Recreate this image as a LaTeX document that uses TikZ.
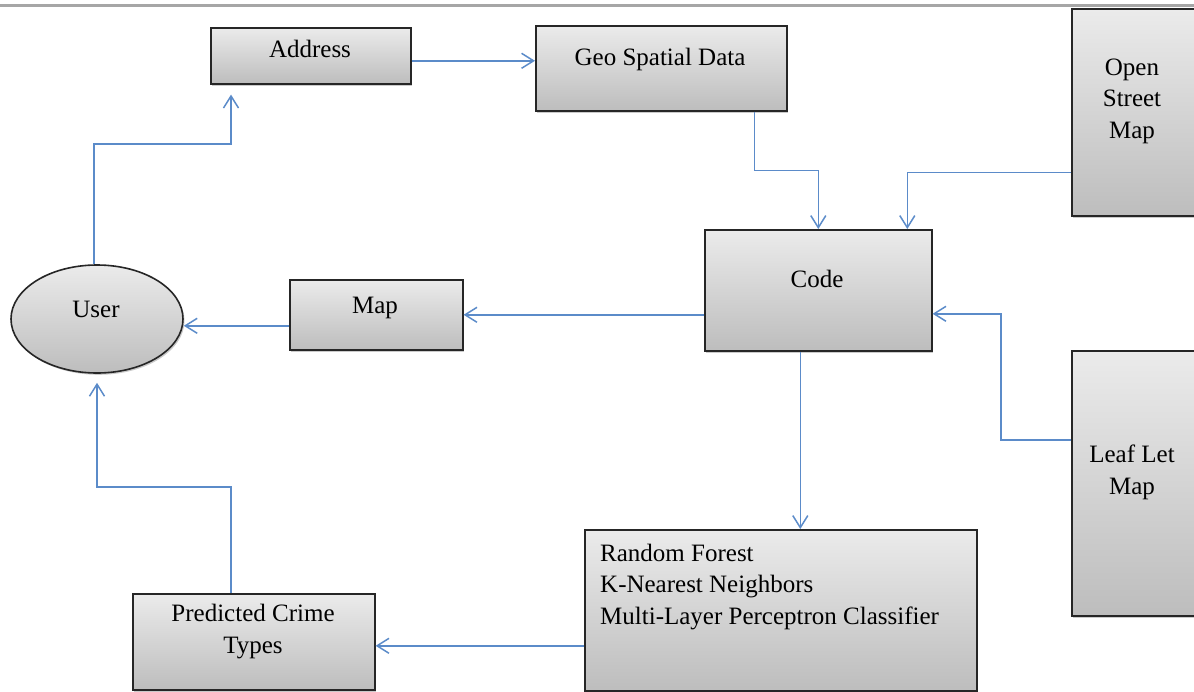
\documentclass[tikz,border=0pt]{standalone}
\usepackage{fontspec}
\setmainfont{Liberation Serif}
\usetikzlibrary{arrows.meta,shadows,calc,shapes.geometric}
\definecolor{linkblue}{HTML}{5B8BC9}
\definecolor{boxedge}{HTML}{262626}
\definecolor{shadetop}{HTML}{EBEBEB}
\definecolor{shadebot}{HTML}{BDBDBD}
\begin{document}
\begin{tikzpicture}[x=1pt,y=-1pt,
  box/.style={draw=boxedge, line width=1.6pt, top color=shadetop, bottom color=shadebot,
    rectangle, inner sep=0pt, anchor=north west,
    drop shadow={shadow xshift=1.5pt, shadow yshift=-1.8pt, opacity=0.35, fill=black!60}},
  oval/.style={draw=boxedge, line width=1.6pt, top color=shadetop, bottom color=shadebot,
    ellipse, inner sep=0pt,
    drop shadow={shadow xshift=1.5pt, shadow yshift=-1.8pt, opacity=0.35, fill=black!60}},
  lbl/.style={font=\fontsize{25}{31.5}\selectfont, inner sep=0pt, text=black, align=center},
  conn/.style={draw=linkblue, line width=1.5pt, -{Straight Barb[length=12pt,width=15pt]}},
]
\useasboundingbox (0,0) rectangle (1194,691);
% rule along the top
\draw[line width=3pt, draw=black!35] (0,5) -- (1194,5);

% boxes
\node[box, minimum width=200pt, minimum height=56pt]  (addr) at (210,27)  {};
\node[box, minimum width=251pt, minimum height=85pt]  (geo)  at (535,25)  {};
\node[box, minimum width=124pt, minimum height=207pt] (osm)  at (1071,8) {};
\node[box, minimum width=227pt, minimum height=121pt] (code) at (704,229) {};
\node[box, minimum width=173pt, minimum height=70pt]  (map)  at (289,279) {};
\node[box, minimum width=124pt, minimum height=265pt] (leaf) at (1071,350) {};
\node[box, minimum width=392pt, minimum height=161pt] (rf)   at (584,529) {};
\node[box, minimum width=242pt, minimum height=96pt]  (pred) at (132,593) {};
\node[oval, minimum width=172pt, minimum height=108pt] (user) at (97,319) {};

% labels (base anchor of a multi-line label sits on its last line)
\node[lbl, anchor=base] (addr-t) at (310,57)  {Address};
\node[lbl, anchor=base] (geo-t)  at (660,65)  {Geo Spatial Data};
\node[lbl, anchor=base] (osm-t)  at (1132,138) {Open\\Street\\Map};
\node[lbl, anchor=base] (code-t) at (817,287) {Code};
\node[lbl, anchor=base] (map-t)  at (375,313) {Map};
\node[lbl, anchor=base] (user-t) at (96,317)  {User};
\node[lbl, anchor=base] (leaf-t) at (1132,494) {Leaf Let\\Map};
\node[lbl, anchor=base west, align=left] (rf-t) at (600,624)
  {Random Forest\\K-Nearest Neighbors\\Multi-Layer Perceptron Classifier};
\node[lbl, anchor=base] (pred-t) at (253,653) {Predicted Crime\\Types};

% connectors
\draw[conn, shorten >=10pt] ([xshift=-3pt]user.north) -- ++(0,-120) -| ([xshift=21pt]addr.south west);
\draw[conn] ([yshift=-5pt]addr.east) -- ([yshift=-5pt]addr.east -| geo.west);
\draw[conn] ([xshift=93pt]geo.south) -- ++(0,59) -| (code.north);
\draw[conn] ([yshift=-60pt]osm.west) -| ([xshift=89pt]code.north);
\draw[conn] (code.west |- map.east) -- (map.east);
\draw[conn] ([yshift=-11pt]map.west) -- ([yshift=-11pt]map.west -| user.east);
\draw[conn] ([xshift=-18pt]code.south) -- ([xshift=-18pt]code.south |- rf.north);
\draw[conn] ([yshift=43.5pt]leaf.west) -- ++(-70,0) |- ([yshift=-23.5pt]code.east);
\draw[conn] ([yshift=-4pt]pred.east -| rf.west) -- ([yshift=-4pt]pred.east);
\draw[conn, shorten >=9pt] ([xshift=-23pt]pred.north) -- ++(0,-106) -| (user.south);
\end{tikzpicture}
\end{document}
